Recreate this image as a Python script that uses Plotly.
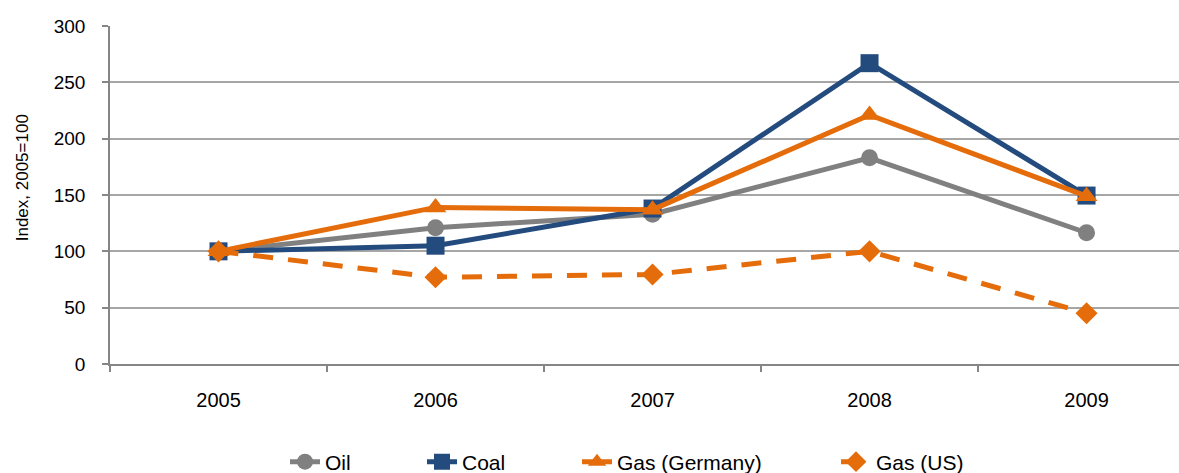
import plotly.graph_objects as go

# Energy price indices, 2005 = 100
years = ["2005", "2006", "2007", "2008", "2009"]
oil = [100, 121, 133, 183, 116.5]
coal = [100, 105, 138, 267, 149.5]
gas_germany = [100, 139, 137, 221, 149]
gas_us = [100, 77, 79.5, 100, 45]

GREY = "#808080"
NAVY = "#234B7D"
ORANGE = "#E46C0A"

x = list(range(len(years)))

fig = go.Figure()

fig.add_trace(go.Scatter(
    x=x, y=oil, name="Oil", mode="lines+markers", legend="legend",
    line=dict(color=GREY, width=5),
    marker=dict(symbol="circle", size=17, color=GREY),
))
fig.add_trace(go.Scatter(
    x=x, y=coal, name="Coal", mode="lines+markers", legend="legend2",
    line=dict(color=NAVY, width=5),
    marker=dict(symbol="square", size=18, color=NAVY),
))
fig.add_trace(go.Scatter(
    x=x, y=gas_us, name="Gas (US)", mode="lines+markers", legend="legend4",
    line=dict(color=ORANGE, width=5, dash="20px,15px"),
    marker=dict(symbol="diamond", size=17, color=ORANGE),
))
fig.add_trace(go.Scatter(
    x=x, y=gas_germany, name="Gas (Germany)", mode="lines+markers", legend="legend3",
    line=dict(color=ORANGE, width=5),
    marker=dict(symbol="triangle-up", size=19, color=ORANGE),
))


def legend_box(left_px):
    # one legend entry per box, placed along the bottom of the page
    return dict(
        xref="container", yref="container",
        x=left_px / 1179, xanchor="left", y=11 / 473, yanchor="middle",
        orientation="h", font=dict(size=21), bgcolor="rgba(0,0,0,0)",
    )


# Category labels sit on a second axis; the main axis carries the divider ticks
x_range = [-0.5, 4.426]
fig.update_layout(
    width=1179, height=473,
    margin=dict(l=110, r=0, t=26, b=108.5),
    paper_bgcolor="white", plot_bgcolor="white",
    font=dict(family="Liberation Sans, Arial, sans-serif", color="#000000"),
    showlegend=True,
    legend=legend_box(285),
    legend2=legend_box(422),
    legend3=legend_box(577),
    legend4=legend_box(836),
    xaxis=dict(
        range=x_range, tickmode="array",
        tickvals=[-0.5, 0.5, 1.5, 2.5, 3.5], ticktext=["", "", "", "", ""],
        ticks="outside", ticklen=6, tickcolor="#868686", tickwidth=1.5,
        showline=True, linecolor="#868686", linewidth=1.5,
        showgrid=False, zeroline=False,
    ),
    xaxis2=dict(
        range=x_range, overlaying="x", side="bottom", anchor="y",
        tickmode="array", tickvals=x, ticktext=years,
        ticks="", showline=False, showgrid=False, zeroline=False,
        tickfont=dict(size=20), ticklabelstandoff=22,
    ),
    yaxis=dict(
        range=[0, 300], tickvals=[0, 50, 100, 150, 200, 250, 300],
        ticks="outside", ticklen=6, tickcolor="#868686", tickwidth=1.5,
        showline=True, linecolor="#868686", linewidth=1.5,
        showgrid=True, gridcolor="#A6A6A6", gridwidth=1.5,
        zeroline=False, tickfont=dict(size=19), ticklabelstandoff=13,
    ),
    annotations=[dict(
        text="Index, 2005=100", textangle=-90, showarrow=False,
        xref="paper", yref="paper", x=-0.0823, y=0.5495,
        xanchor="center", yanchor="middle", font=dict(size=17),
    )],
)

# anchor the label axis without adding any marks to it
fig.add_trace(go.Scatter(x=[None], y=[None], xaxis="x2", showlegend=False, hoverinfo="skip"))

fig.write_html("out.html")
